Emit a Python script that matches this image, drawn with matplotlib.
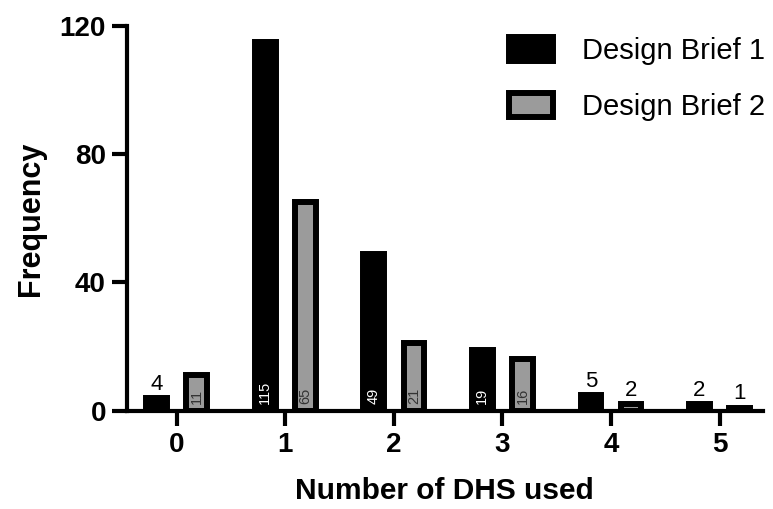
import numpy as np
import matplotlib.pyplot as plt

plt.rcParams['font.family'] = ['Liberation Sans', 'DejaVu Sans']

# data
dhs_used = [0, 1, 2, 3, 4, 5]
brief1 = [4, 115, 49, 19, 5, 2]
brief2 = [11, 65, 21, 16, 2, 1]

fig = plt.figure(figsize=(7.73, 5.09), dpi=100)
ax = fig.add_axes([0.164, 0.193, 0.823, 0.756])

x = np.array(dhs_used)
w = 0.19
off = 0.185
edge = 4.3

ax.bar(x - off, brief1, w, color='black', edgecolor='black', linewidth=edge,
       label='Design Brief 1', zorder=3)
ax.bar(x + off, brief2, w, color='#9b9b9b', edgecolor='black', linewidth=edge,
       label='Design Brief 2', zorder=3)

# value labels: inside (rotated) for tall bars, above for short ones
for xi, v in zip(x - off, brief1):
    if v >= 10:
        ax.text(xi, 2.0, str(v), rotation=90, ha='center', va='bottom',
                color='white', fontsize=10.5, zorder=4)
    else:
        ax.text(xi, v + 1.0, str(v), ha='center', va='bottom', fontsize=16, zorder=4)
for xi, v in zip(x + off, brief2):
    if v >= 10:
        ax.text(xi, 2.0, str(v), rotation=90, ha='center', va='bottom',
                color='#333333', fontsize=10.5, zorder=4)
    else:
        ax.text(xi, v + 1.0, str(v), ha='center', va='bottom', fontsize=16, zorder=4)

ax.set_xlim(-0.46, 5.4)
ax.set_ylim(0, 120)
ax.set_yticks([0, 40, 80, 120])
ax.set_xticks(dhs_used)

for s in ['top', 'right']:
    ax.spines[s].set_visible(False)
for s in ['left', 'bottom']:
    ax.spines[s].set_linewidth(3)
ax.tick_params(width=3, length=11, labelsize=20, pad=4)
for lab in ax.get_xticklabels() + ax.get_yticklabels():
    lab.set_fontweight('bold')

ax.set_xlabel('Number of DHS used', fontsize=21.5, fontweight='bold', labelpad=14)
ax.set_ylabel('Frequency', fontsize=22, fontweight='bold', labelpad=10)

ax.legend(loc='upper right', bbox_to_anchor=(1.045, 1.04), frameon=False, fontsize=21,
          handlelength=1.5, handleheight=0.9, labelspacing=0.95, handletextpad=1.0)

fig.savefig('out.png', dpi=100)
